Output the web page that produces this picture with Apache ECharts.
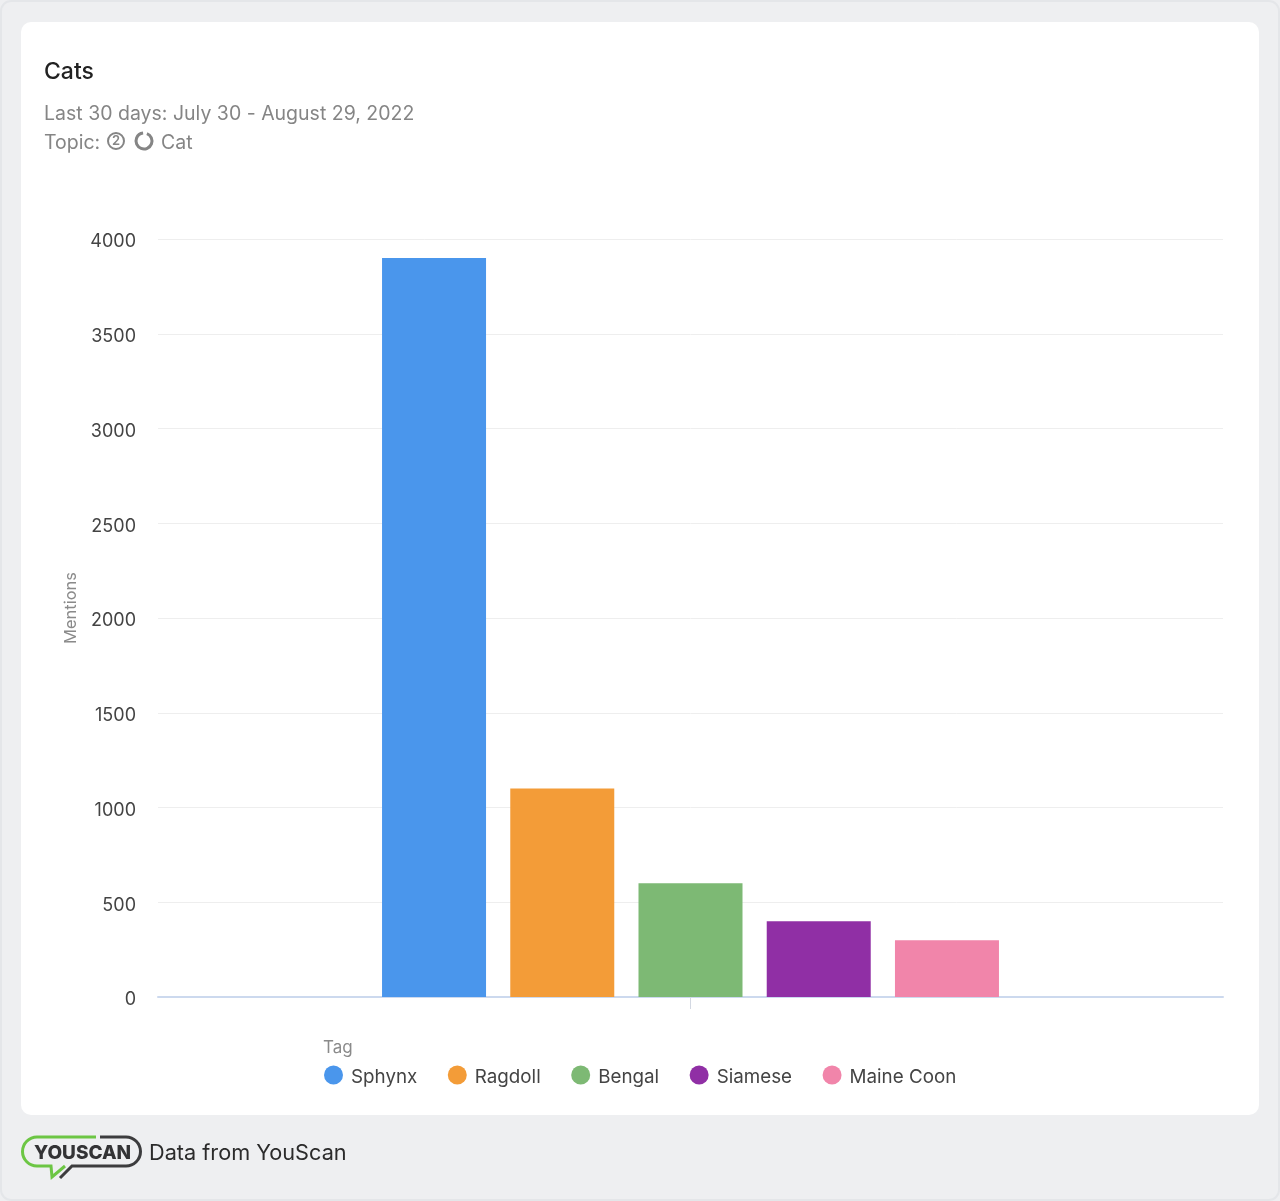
<!DOCTYPE html>
<html>
<head>
<meta charset="utf-8">
<style>html,body{margin:0;padding:0;background:#eeeff1}#c{width:1280px;height:1201px}</style>
<script src="https://cdn.jsdelivr.net/npm/echarts@6/dist/echarts.min.js"></script>
</head>
<body>
<div id="c"></div>
<script>
const categories = ['Cats'];
const seriesNames = ['Sphynx', 'Ragdoll', 'Bengal', 'Siamese', 'Maine Coon'];
const seriesValues = [3900, 1100, 600, 400, 300];
const seriesColors = ['#4a96ec', '#f39c38', '#7db974', '#902fa5', '#f185aa'];
const FONT = 'Inter, "Noto Sans", sans-serif';

const chart = echarts.init(document.getElementById('c'), null, {renderer: 'canvas'});
function txt(x, y, text, size, fill, weight) {
  return {type: 'text', x, y, z: 5, style: {text, fontFamily: FONT, fontSize: size, fill, fontWeight: weight || 400, textVerticalAlign: 'middle'}};
}
function line(points, color) {
  return {type: 'polyline', z: 5, shape: {points}, style: {fill: 'none', stroke: color, lineWidth: 3}};
}
function arc(cx, cy, r, startAngle, endAngle, color, lineWidth) {
  return {type: 'arc', z: 5, shape: {cx, cy, r, startAngle, endAngle}, style: {fill: 'none', stroke: color, lineWidth}};
}
const GREEN = '#6cc644', DARK = '#3c3c3e';
chart.setOption({
  animation: false,
  backgroundColor: '#eeeff1',
  textStyle: {fontFamily: FONT},
  grid: {left: 158, right: 57, top: 239, bottom: 204},
  xAxis: {
    type: 'category', data: categories,
    axisLine: {lineStyle: {color: '#ccd9ee', width: 2}},
    axisTick: {show: true, interval: 0, alignWithLabel: true, length: 12, lineStyle: {color: '#d3d8e2'}},
    axisLabel: {show: false}
  },
  yAxis: {
    type: 'value', min: 0, max: 4000, interval: 500,
    name: 'Mentions', nameLocation: 'middle', nameGap: 75, nameRotate: 90,
    nameTextStyle: {color: '#8a8a8a', fontSize: 16.5, fontFamily: FONT, padding: [0, 0, 0, 20]},
    axisLine: {show: false}, axisTick: {show: false},
    axisLabel: {color: '#444', fontSize: 18, margin: 22, fontFamily: FONT, verticalAlign: 'top', lineHeight: 6, formatter: v => String(v)},
    splitLine: {lineStyle: {color: '#eeeeee', width: 1}}
  },
  legend: {
    left: 319, top: 1060.5, icon: 'circle', itemWidth: 19, itemHeight: 19, itemGap: 30.5,
    data: seriesNames,
    formatter: name => '{t|' + name + '}',
    textStyle: {
      color: '#444', fontSize: 18.8, fontFamily: FONT, padding: [0, 0, 0, 3],
      rich: {t: {color: '#444', fontSize: 18.8, fontFamily: FONT, padding: [5, 0, 0, 0]}}
    }
  },
  series: seriesNames.map((name, i) => ({
    name, type: 'bar', barWidth: 104, barGap: '23.3%',
    itemStyle: {color: seriesColors[i]},
    data: [seriesValues[i]]
  })),
  graphic: [
    {type: 'rect', z: -10, shape: {x: 1, y: 1, width: 1278, height: 1199, r: 10}, style: {fill: '#eeeff1', stroke: '#e4e6e9', lineWidth: 2}},
    {type: 'rect', z: -9, shape: {x: 21, y: 22, width: 1238, height: 1093, r: 10}, style: {fill: '#ffffff'}},
    txt(44, 72, 'Cats', 23, '#222222', 500),
    txt(44, 114, 'Last 30 days: July 30 - August 29, 2022', 19.5, '#858585'),
    txt(44, 143, 'Topic:', 19.5, '#858585'),
    {type: 'circle', z: 5, shape: {cx: 116, cy: 141, r: 8}, style: {fill: 'none', stroke: '#858585', lineWidth: 2}},
    {type: 'text', z: 5, x: 116, y: 141.5, style: {text: '2', fontFamily: FONT, fontSize: 13, fontWeight: 600, fill: '#858585', textAlign: 'center', textVerticalAlign: 'middle'}},
    arc(144, 141, 8, -1.2, 4.6, '#858585', 3),
    txt(161, 143, 'Cat', 19.5, '#858585'),
    txt(323, 1048, 'Tag', 17, '#8a8a8a'),
    line([[96, 1137], [37, 1137]], GREEN),
    arc(37, 1151.5, 14.5, Math.PI / 2, Math.PI * 1.5, GREEN, 3),
    line([[37, 1166], [51, 1166], [52, 1177], [65, 1166]], GREEN),
    line([[100, 1137], [126, 1137]], DARK),
    arc(126, 1151.5, 14.5, -Math.PI / 2, Math.PI / 2, DARK, 3),
    line([[126, 1166], [72, 1166], [60, 1178]], DARK),
    txt(34, 1153, 'YOUSCAN', 19, '#333335', 800),
    txt(149, 1153, 'Data from YouScan', 21.7, '#2b2b2b')
  ]
});
</script>
</body>
</html>
